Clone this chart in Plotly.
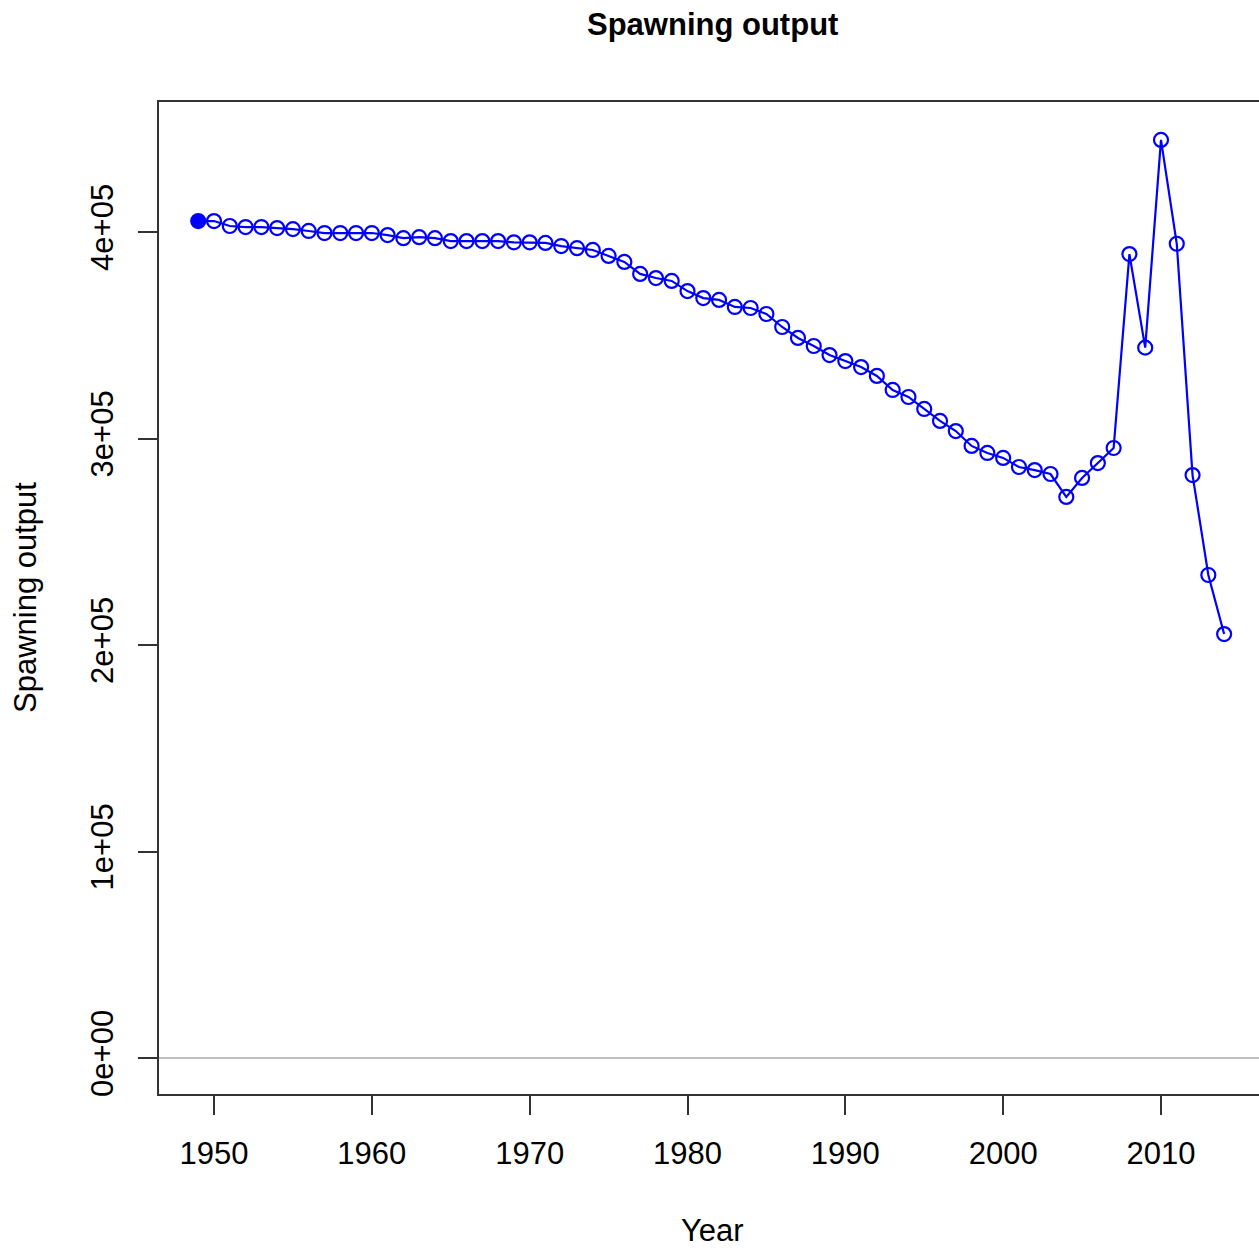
import plotly.graph_objects as go

# ---- data ----
years = [1949, 1950, 1951, 1952, 1953, 1954, 1955, 1956, 1957, 1958,
         1959, 1960, 1961, 1962, 1963, 1964, 1965, 1966, 1967, 1968,
         1969, 1970, 1971, 1972, 1973, 1974, 1975, 1976, 1977, 1978,
         1979, 1980, 1981, 1982, 1983, 1984, 1985, 1986, 1987, 1988,
         1989, 1990, 1991, 1992, 1993, 1994, 1995, 1996, 1997, 1998,
         1999, 2000, 2001, 2002, 2003, 2004, 2005, 2006, 2007, 2008,
         2009, 2010, 2011, 2012, 2013, 2014]
spawning_output = [405300, 405300, 402900, 402400, 402400, 401900, 401400, 400500, 399500, 399500,
                   399500, 399500, 398500, 397000, 397500, 397000, 395600, 395600, 395600, 395600,
                   395000, 395000, 394700, 393200, 392200, 391300, 388400, 385500, 379700, 377700,
                   376300, 371400, 368000, 367100, 363700, 363200, 360300, 354000, 348700, 344800,
                   340400, 337500, 334600, 330300, 323500, 320100, 314300, 308500, 303600, 296400,
                   293000, 290600, 286200, 284700, 282800, 271700, 280900, 288100, 295400, 389300,
                   344000, 444600, 394300, 282300, 233900, 205300]
x_tick_vals = [1950, 1960, 1970, 1980, 1990, 2000, 2010]
y_tick_vals = [0, 100000, 200000, 300000, 400000]
y_tick_text = ["0e+00", "1e+05", "2e+05", "3e+05", "4e+05"]

# ---- layout geometry (pixels) ----
W, H = 1259, 1248
L, R, T, B = 159, 1259, 102, 1094
FONT = "Liberation Sans, Arial, sans-serif"
BLUE = "#0000FF"
AXC = "#333333"


def px_x(p):
    return (p - L) / (R - L)


def px_y(p):
    return (B - p) / (B - T)


symbols = ["circle"] + ["circle-open"] * (len(years) - 1)

fig = go.Figure()
fig.add_trace(go.Scatter(
    x=years, y=spawning_output, mode="lines+markers",
    line=dict(color=BLUE, width=2.2),
    marker=dict(symbol=symbols, size=14, color=BLUE,
                line=dict(color=BLUE, width=2.2)),
    showlegend=False, hoverinfo="x+y",
))

fig.update_layout(
    width=W, height=H,
    margin=dict(l=L, r=W - R, t=T, b=H - B, pad=0),
    paper_bgcolor="white", plot_bgcolor="white",
    font=dict(family=FONT, size=30, color="black"),
    showlegend=False,
    xaxis=dict(
        range=[1946.515, 2016.21], tickmode="array", tickvals=x_tick_vals,
        ticks="outside", ticklen=19, tickwidth=2, tickcolor=AXC,
        showline=True, linecolor=AXC, linewidth=2, mirror=True,
        showgrid=False, zeroline=False,
        tickfont=dict(family=FONT, size=31, color="black"),
        ticklabelstandoff=12,
    ),
    yaxis=dict(
        range=[-17433, 462954], tickmode="array", tickvals=y_tick_vals,
        ticktext=y_tick_text, tickangle=-90,
        ticks="outside", ticklen=19, tickwidth=2, tickcolor=AXC,
        showline=True, linecolor=AXC, linewidth=2, mirror=False,
        showgrid=False, zeroline=True, zerolinecolor="#BEBEBE", zerolinewidth=1.5,
        tickfont=dict(family=FONT, size=31, color="black"),
        ticklabelstandoff=13,
    ),
    annotations=[
        dict(text="<b>Spawning output</b>", xref="paper", yref="paper",
             x=px_x(712), y=px_y(25), xanchor="center", yanchor="middle",
             showarrow=False, font=dict(family=FONT, size=31, color="black")),
        dict(text="Year", xref="paper", yref="paper",
             x=px_x(712), y=px_y(1230), xanchor="center", yanchor="middle",
             showarrow=False, font=dict(family=FONT, size=31, color="black")),
        dict(text="Spawning output", xref="paper", yref="paper",
             x=px_x(25), y=px_y(598), xanchor="center", yanchor="middle",
             textangle=-90, showarrow=False,
             font=dict(family=FONT, size=31, color="black")),
    ],
)

fig.write_html("out.html")
